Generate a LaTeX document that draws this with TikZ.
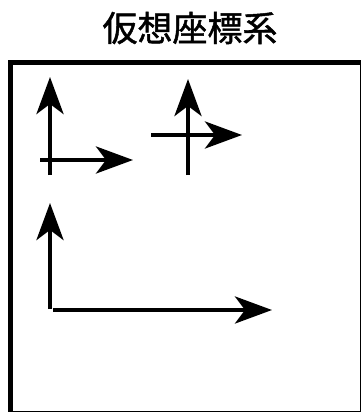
\documentclass[tikz,border=0pt]{standalone}
\usepackage{fontspec}
\newfontfamily\cjk[FakeBold=1.3]{Noto Sans CJK JP}
\usetikzlibrary{arrows.meta}
\begin{document}
\begin{tikzpicture}[x=1pt,y=-1pt,
  axis/.style={line width=4.5pt,-{Stealth[length=37pt,width=27pt,inset=10pt]}},
  frame/.style={line width=4.5pt},
  title/.style={font=\cjk\fontsize{35}{38}\selectfont,inner sep=0pt}]
\useasboundingbox (0,0) rectangle (361,412);
\node[title] (t) at (190,28) {仮想座標系};
\draw[frame] (10.5,62.5) rectangle (362,413);
% group 1
\coordinate (a1s) at (50,175);
\coordinate (a1e) at (50,77);
\coordinate (b1s) at (40,160);
\coordinate (b1e) at (133,160);
\draw[axis] (a1s) -- (a1e);
\draw[axis] (b1s) -- (b1e);
% group 2
\coordinate (a2s) at (188,175);
\coordinate (a2e) at (188,79);
\coordinate (b2s) at (151,135);
\coordinate (b2e) at (242,135);
\draw[axis] (a2s) -- (a2e);
\draw[axis] (b2s) -- (b2e);
% group 3
\coordinate (a3s) at (50,309);
\coordinate (a3e) at (50,203);
\coordinate (b3s) at (53,310);
\coordinate (b3e) at (272,310);
\draw[axis] (a3s) -- (a3e);
\draw[axis] (b3s) -- (b3e);
\end{tikzpicture}
\end{document}
